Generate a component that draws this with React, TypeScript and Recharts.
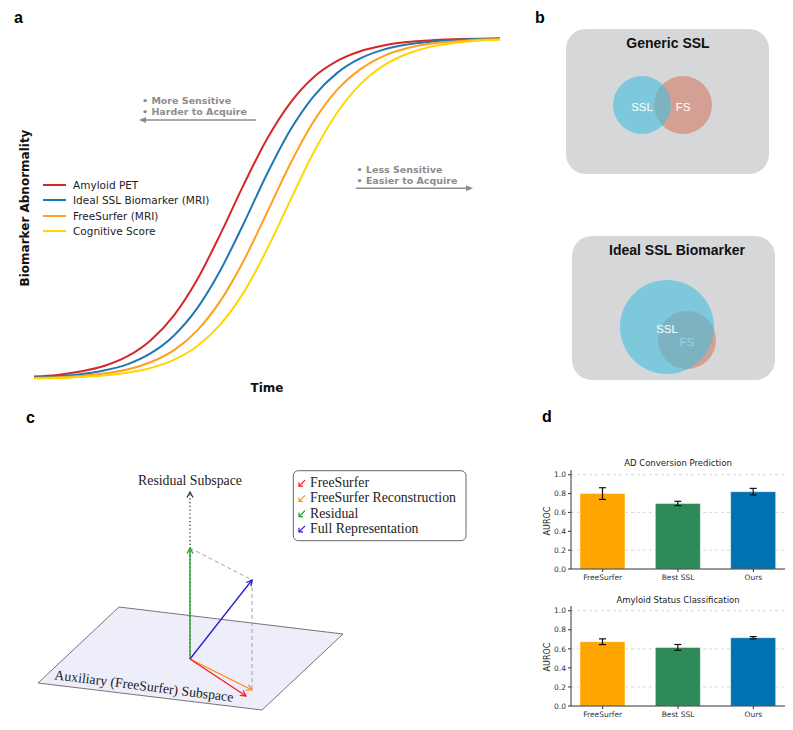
import React from 'react';
import {
  LineChart, Line, XAxis, YAxis, Legend,
  ScatterChart, Scatter,
  BarChart, Bar, Cell, ErrorBar, CartesianGrid,
} from 'recharts';

const SANS = '"DejaVu Sans", sans-serif';
const HELV = '"Liberation Sans", Arial, sans-serif';
const SERIF = '"Liberation Serif", "Times New Roman", serif';

// ---- panel a: biomarker curves (0..1) ----
const TIME = [0, 5, 10, 15, 20, 25, 30, 35, 40, 45, 50, 55, 60, 65, 70, 75, 80, 85, 90, 95, 100];
const AMYLOID_PET = [0.007, 0.012, 0.022, 0.038, 0.066, 0.113, 0.186, 0.291, 0.425, 0.570, 0.704, 0.810, 0.885, 0.932, 0.961, 0.978, 0.988, 0.993, 0.996, 0.998, 0.999];
const IDEAL_SSL = [0.004, 0.008, 0.014, 0.025, 0.043, 0.075, 0.127, 0.207, 0.319, 0.456, 0.601, 0.730, 0.829, 0.897, 0.940, 0.966, 0.981, 0.989, 0.994, 0.997, 0.998];
const FREESURFER_MRI = [0.003, 0.005, 0.009, 0.016, 0.028, 0.049, 0.084, 0.142, 0.229, 0.347, 0.488, 0.631, 0.755, 0.847, 0.908, 0.947, 0.970, 0.983, 0.990, 0.995, 0.997];
const COGNITIVE = [0.002, 0.003, 0.006, 0.010, 0.018, 0.032, 0.056, 0.096, 0.160, 0.254, 0.380, 0.524, 0.664, 0.780, 0.864, 0.919, 0.953, 0.974, 0.985, 0.992, 0.995];

const CURVES = [
  { key: 'amyloid', name: 'Amyloid PET', color: '#d62728' },
  { key: 'ssl', name: 'Ideal SSL Biomarker (MRI)', color: '#1f77b4' },
  { key: 'fs', name: 'FreeSurfer (MRI)', color: '#ff9f1a' },
  { key: 'cog', name: 'Cognitive Score', color: '#ffd700' },
];

const curveData = TIME.map((t, i) => ({
  t,
  amyloid: AMYLOID_PET[i],
  ssl: IDEAL_SSL[i],
  fs: FREESURFER_MRI[i],
  cog: COGNITIVE[i],
}));

// ---- panel b: venn sets (box units) ----
const VENN_COLORS: Record<string, string> = { SSL: '#43bede', FS: '#d37b66' };
const GENERIC_SETS = [
  { set: 'FS', x: 117, y: 76, r: 29 },
  { set: 'SSL', x: 76, y: 76, r: 29 },
];
const IDEAL_SETS = [
  { set: 'FS', x: 115, y: 104, r: 29 },
  { set: 'SSL', x: 95, y: 91, r: 47 },
];

// ---- panel c: subspace geometry ----
const ORIGIN = { x: 0, y: 0 };
const PLANE = [{ x: -152, y: -24 }, { x: -71, y: 52 }, { x: 153, y: 25 }, { x: 72, y: -51 }];
const RESIDUAL_AXIS_TIP = { x: 0, y: 167 };
const RESIDUAL_TIP = { x: 0, y: 111 };
const FULL_TIP = { x: 62, y: 79 };
const RECON_TIP = { x: 62, y: -31 };
const FREESURFER_TIP = { x: 56, y: -37 };

const LEGEND_C = [
  { label: 'FreeSurfer', color: '#ff1a1a' },
  { label: 'FreeSurfer Reconstruction', color: '#ff8c1a' },
  { label: 'Residual', color: '#1fa01f' },
  { label: 'Full Representation', color: '#1f1fcc' },
];

// ---- panel d: AUROC bars ----
const MODELS = ['FreeSurfer', 'Best SSL', 'Ours'];
const BAR_COLORS = ['#ffa500', '#2e8b57', '#0072b2'];
const AD_CONVERSION = [0.80, 0.695, 0.82];
const AD_CONVERSION_ERR = [0.062, 0.023, 0.035];
const AMYLOID_STATUS = [0.675, 0.615, 0.717];
const AMYLOID_STATUS_ERR = [0.03, 0.031, 0.012];
const AUROC_TICKS = [0, 0.2, 0.4, 0.6, 0.8, 1.0];

const LegendA = ({ payload }: any) => {
  const order = CURVES.map(c => c.name);
  const items = [...(payload || [])].sort((a: any, b: any) => order.indexOf(a.value) - order.indexOf(b.value));
  return (
    <div style={{ fontFamily: SANS, fontSize: 10.5, color: '#222' }}>
      {items.map((p: any) => (
        <div key={p.value} style={{ display: 'flex', alignItems: 'center', height: 15.3 }}>
          <span style={{ display: 'inline-block', width: 23, height: 2, background: p.color, marginRight: 7 }} />
          {p.value}
        </div>
      ))}
    </div>
  );
};

function PanelA() {
  return (
    <div style={{ position: 'absolute', left: 0, top: 0 }}>
      <LineChart width={510} height={395} data={curveData} margin={{ top: 38, right: 10, left: 34, bottom: 16 }}>
        <XAxis dataKey="t" type="number" domain={[0, 100]} tick={false} tickLine={false} height={0}
          axisLine={{ stroke: '#666', strokeWidth: 1.2 }} />
        <YAxis type="number" domain={[0, 1]} tick={false} tickLine={false} width={0}
          axisLine={{ stroke: '#666', strokeWidth: 1.2 }} />
        {CURVES.map(c => (
          <Line key={c.key} type="monotone" dataKey={c.key} name={c.name} stroke={c.color}
            strokeWidth={2} dot={false} isAnimationActive={false} />
        ))}
        <Legend layout="horizontal" verticalAlign="middle" align="center" content={LegendA}
          wrapperStyle={{ left: 43, top: 177.5, width: 220 }} />
      </LineChart>
    </div>
  );
}

const VennCircle = (props: any) => {
  const { cx, cy, payload } = props;
  return (
    <g>
      <circle cx={cx} cy={cy} r={payload.r} fill={VENN_COLORS[payload.set]} fillOpacity={0.6} />
      <text x={cx} y={cy + 1.5} textAnchor="middle" dominantBaseline="central" fill="#fff"
        fontSize={11.5} fontFamily={HELV}>{payload.set}</text>
    </g>
  );
};

function VennBox({ sets, left, top, width, height }: any) {
  return (
    <div style={{ position: 'absolute', left, top, width, height, background: '#d6d7d9', borderRadius: 20 }}>
      <ScatterChart width={width} height={height} margin={{ top: 0, right: 0, bottom: 0, left: 0 }}>
        <XAxis type="number" dataKey="x" domain={[0, width]} hide />
        <YAxis type="number" dataKey="y" domain={[0, height]} hide reversed />
        <Scatter data={sets} shape={VennCircle} isAnimationActive={false} />
      </ScatterChart>
    </div>
  );
}

const arrowLine = (color: string, width: number, dash?: string, head = true) => (p: any) => {
  const pts = p.points || [];
  if (pts.length < 2) return <g />;
  const a = pts[0];
  const b = pts[pts.length - 1];
  const ang = Math.atan2(b.y - a.y, b.x - a.x);
  const L = 5.5, W = 3;
  const cos = Math.cos(ang), sin = Math.sin(ang);
  const w1 = { x: b.x - L * cos + W * sin, y: b.y - L * sin - W * cos };
  const w2 = { x: b.x - L * cos - W * sin, y: b.y - L * sin + W * cos };
  return (
    <g>
      <line x1={a.x} y1={a.y} x2={b.x} y2={b.y} stroke={color} strokeWidth={width} strokeDasharray={dash} />
      {head && (
        <polyline points={`${w1.x},${w1.y} ${b.x},${b.y} ${w2.x},${w2.y}`} fill="none" stroke={color}
          strokeWidth={width} strokeLinejoin="miter" />
      )}
    </g>
  );
};

const planeShape = (p: any) => (
  <polygon points={(p.points || []).map((q: any) => `${q.x},${q.y}`).join(' ')}
    fill="#eeeefb" stroke="#666" strokeWidth={0.9} />
);

const noDot = () => <g />;

function PanelC() {
  return (
    <div style={{ position: 'absolute', left: 0, top: 440 }}>
      <ScatterChart width={480} height={280} margin={{ top: 0, right: 0, bottom: 0, left: 0 }}>
        <XAxis type="number" dataKey="x" domain={[-190, 290]} hide />
        <YAxis type="number" dataKey="y" domain={[-61, 219]} hide />
        <Scatter data={PLANE} shape={noDot} line={planeShape} isAnimationActive={false} />
        <Scatter data={[ORIGIN, RESIDUAL_AXIS_TIP]} shape={noDot} line={arrowLine('#333', 1.3, '1.2 2.6')} isAnimationActive={false} />
        <Scatter data={[RESIDUAL_TIP, FULL_TIP]} shape={noDot} line={arrowLine('#999', 0.9, '4 3', false)} isAnimationActive={false} />
        <Scatter data={[FULL_TIP, RECON_TIP]} shape={noDot} line={arrowLine('#999', 0.9, '4 3', false)} isAnimationActive={false} />
        <Scatter data={[ORIGIN, RESIDUAL_TIP]} shape={noDot} line={arrowLine(LEGEND_C[2].color, 1.3)} isAnimationActive={false} />
        <Scatter data={[ORIGIN, FULL_TIP]} shape={noDot} line={arrowLine(LEGEND_C[3].color, 1.3)} isAnimationActive={false} />
        <Scatter data={[ORIGIN, RECON_TIP]} shape={noDot} line={arrowLine(LEGEND_C[1].color, 1.3)} isAnimationActive={false} />
        <Scatter data={[ORIGIN, FREESURFER_TIP]} shape={noDot} line={arrowLine(LEGEND_C[0].color, 1.3)} isAnimationActive={false} />
      </ScatterChart>
    </div>
  );
}

function AurocChart({ values, errors, top, marginTop }: any) {
  const data = MODELS.map((m, i) => ({ model: m, auroc: values[i], err: errors[i] }));
  const tickStyle = { fontSize: 7.5, fill: '#333', fontFamily: SANS };
  return (
    <div style={{ position: 'absolute', left: 530, top }}>
      <BarChart width={263} height={135} data={data} margin={{ top: marginTop, right: 8, left: 0, bottom: 0 }}>
        <CartesianGrid vertical={false} horizontalValues={AUROC_TICKS.slice(1)} stroke="#d9d9d9" strokeDasharray="3 3" />
        <XAxis dataKey="model" height={21} tickSize={3} tickMargin={3} tick={tickStyle}
          axisLine={{ stroke: '#333' }} tickLine={{ stroke: '#333' }} padding={{ left: -6, right: -6 }} />
        <YAxis type="number" domain={[0, 1.05]} ticks={AUROC_TICKS} tickFormatter={(v: number) => v.toFixed(1)}
          width={41} tickSize={3} tickMargin={2} tick={tickStyle} axisLine={{ stroke: '#333' }} tickLine={{ stroke: '#333' }} />
        <Bar dataKey="auroc" barSize={45} isAnimationActive={false} stroke="#ffffff" strokeOpacity={0.45} strokeWidth={1}>
          {data.map((d, i) => <Cell key={d.model} fill={BAR_COLORS[i]} />)}
          <ErrorBar dataKey="err" width={3.5} stroke="#111" strokeWidth={1.2} />
        </Bar>
      </BarChart>
    </div>
  );
}

function Overlay() {
  const gray = '#8c8c8c';
  return (
    <svg width={793} height={730} style={{ position: 'absolute', left: 0, top: 0, pointerEvents: 'none' }}>
      {/* panel letters */}
      <g fontFamily={HELV} fontWeight="bold" fontSize={16} fill="#000">
        <text x={14} y={23}>a</text>
        <text x={535} y={23}>b</text>
        <text x={26} y={423}>c</text>
        <text x={542} y={422}>d</text>
      </g>

      {/* panel a */}
      <text x={25} y={208} transform="rotate(-90 25 208)" textAnchor="middle" dominantBaseline="central"
        fontFamily={SANS} fontWeight="bold" fontSize={12} fill="#111">Biomarker Abnormality</text>
      <text x={267} y={388} textAnchor="middle" dominantBaseline="central"
        fontFamily={SANS} fontWeight="bold" fontSize={12} fill="#111">Time</text>
      <g fontFamily={SANS} fontWeight="bold" fontSize={9.5} fill={gray}>
        <text x={142} y={104.3}>• More Sensitive</text>
        <text x={142} y={115}>• Harder to Acquire</text>
        <text x={356.5} y={172.7}>• Less Sensitive</text>
        <text x={356.5} y={183.5}>• Easier to Acquire</text>
      </g>
      <line x1={256} y1={120} x2={145} y2={120} stroke={gray} strokeWidth={1.5} />
      <polygon points="139,120 146,117 146,123" fill={gray} />
      <line x1={356} y1={188.3} x2={467} y2={188.3} stroke={gray} strokeWidth={1.5} />
      <polygon points="473,188.3 466,185.3 466,191.3" fill={gray} />

      {/* panel b titles */}
      <g fontFamily={HELV} fontWeight="bold" fontSize={14} fill="#111" textAnchor="middle">
        <text x={668} y={43} dominantBaseline="central">Generic SSL</text>
        <text x={677} y={250} dominantBaseline="central">Ideal SSL Biomarker</text>
      </g>

      {/* panel c texts */}
      <text x={190} y={480} textAnchor="middle" dominantBaseline="central" fontFamily={SERIF} fontSize={13.8} fill="#222">
        Residual Subspace
      </text>
      <text x={144} y={686} transform="rotate(7.2 144 686)" textAnchor="middle" dominantBaseline="central"
        fontFamily={SERIF} fontSize={13.8} fill="#222">Auxiliary (FreeSurfer) Subspace</text>
      <rect x={293.3} y={470.7} width={172.7} height={70} rx={5} fill="#fff" stroke="#666" strokeWidth={1} />
      {LEGEND_C.map((e, i) => {
        const cy = 482.7 + i * 15.2;
        return (
          <g key={e.label}>
            <line x1={305} y1={cy - 2.5} x2={299} y2={cy + 3.5} stroke={e.color} strokeWidth={1.2} />
            <polyline points={`${299},${cy - 0.5} ${299},${cy + 3.5} ${303},${cy + 3.5}`} fill="none" stroke={e.color} strokeWidth={1.2} />
            <text x={310} y={cy + 4.5} fontFamily={SERIF} fontSize={13.8} fill="#222">{e.label}</text>
          </g>
        );
      })}

      {/* panel d titles */}
      <g fontFamily={SANS} fontSize={8.5} fill="#222" textAnchor="middle">
        <text x={678} y={463} dominantBaseline="central">AD Conversion Prediction</text>
        <text x={678} y={600} dominantBaseline="central">Amyloid Status Classification</text>
      </g>
      <g fontFamily={SANS} fontSize={8} fill="#222" textAnchor="middle">
        <text x={547} y={521} transform="rotate(-90 547 521)" dominantBaseline="central">AUROC</text>
        <text x={547} y={657} transform="rotate(-90 547 657)" dominantBaseline="central">AUROC</text>
      </g>
    </svg>
  );
}

export default function App() {
  return (
    <div style={{ position: 'absolute', left: 0, top: 0, width: 793, height: 730, background: '#fff' }}>
      <PanelA />
      <VennBox sets={GENERIC_SETS} left={566} top={29} width={203} height={145} />
      <VennBox sets={IDEAL_SETS} left={572} top={236} width={203} height={144} />
      <PanelC />
      <AurocChart values={AD_CONVERSION} errors={AD_CONVERSION_ERR} top={455} marginTop={15} />
      <AurocChart values={AMYLOID_STATUS} errors={AMYLOID_STATUS_ERR} top={592} marginTop={14} />
      <Overlay />
    </div>
  );
}
